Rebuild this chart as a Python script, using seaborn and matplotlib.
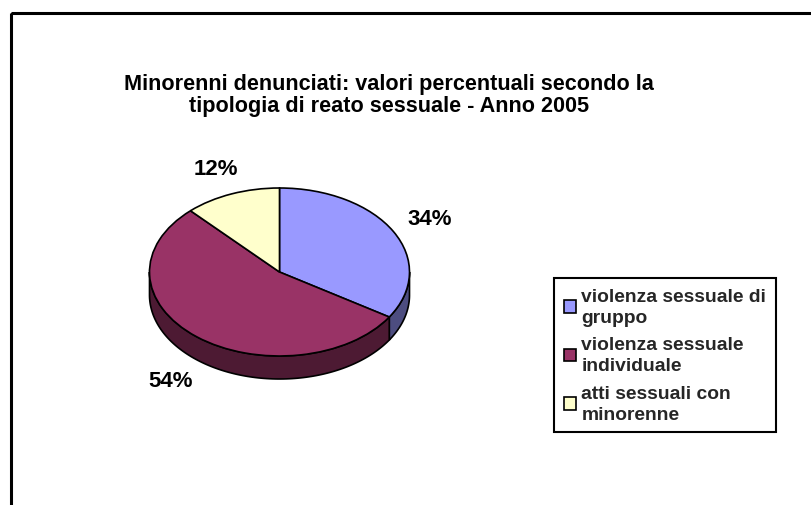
import numpy as np
import matplotlib
matplotlib.use("Agg")
import matplotlib.pyplot as plt
from matplotlib.patches import Polygon, Rectangle
import seaborn as sns

# ------------------------------------------------------
# data
# ------------------------------------------------------
categories = [
    "violenza sessuale di\ngruppo",
    "violenza sessuale\nindividuale",
    "atti sessuali con\nminorenne",
]
shares = [34, 54, 12]
top_colors = ["#9999FF", "#993366", "#FFFFCC"]
side_colors = ["#4D4D80", "#4D1A33", "#80806A"]
title = ("Minorenni denunciati: valori percentuali secondo la\n"
         "tipologia di reato sessuale - Anno 2005")

sns.set_theme(style="white")
plt.rcParams["font.family"] = ["Liberation Sans", "DejaVu Sans"]
plt.rcParams["font.weight"] = "bold"

W, H = 812, 506
fig = plt.figure(figsize=(W / 100, H / 100), dpi=100)


def fig_box(x0, y0, x1, y1):
    # pixel box (top-down) -> figure fraction rect
    return [x0 / W, 1 - y1 / H, (x1 - x0) / W, (y1 - y0) / H]


# ------------------------------------------------------
# "3D" pie: squashed pie + side walls
# ------------------------------------------------------
cx, cy, rx, ry, depth = 279.5, 273, 130, 84, 23
ax_px = (130, 160, 440, 400)
ax = fig.add_axes(fig_box(*ax_px))
wedges, _ = ax.pie(shares, colors=top_colors, startangle=90, counterclock=False,
                   wedgeprops=dict(edgecolor="black", linewidth=1.2, zorder=3))
ax.set_aspect("auto")
ax.set_xlim((ax_px[0] - cx) / rx, (ax_px[2] - cx) / rx)
ax.set_ylim((cy - ax_px[3]) / ry, (cy - ax_px[1]) / ry)
ax.axis("off")
d = depth / ry

for w, c in zip(wedges, side_colors):
    t1, t2 = w.theta1, w.theta2
    for k in (-360, 0, 360):
        lo = max(t1, 180 + k)
        hi = min(t2, 360 + k)
        if hi > lo:
            t = np.radians(np.linspace(lo, hi, 120))
            xs, ys = np.cos(t), np.sin(t)
            pts = np.column_stack([np.r_[xs, xs[::-1]], np.r_[ys, ys[::-1] - d]])
            ax.add_patch(Polygon(pts, closed=True, fc=c, ec="black",
                                 lw=1.2, zorder=2))

# percent labels
r_lab = 1.32
for w, s in zip(wedges, shares):
    mid = np.radians((w.theta1 + w.theta2) / 2)
    x, y = r_lab * np.cos(mid), r_lab * np.sin(mid)
    if y < 0:
        y -= d
    ax.text(x, y, f"{s}%", ha="center", va="center",
            fontsize=16, fontweight="bold", color="black")

# ------------------------------------------------------
# legend, title, frame
# ------------------------------------------------------
leg = fig.legend(wedges, categories, loc="upper left",
                 bbox_to_anchor=(554 / W, 1 - 279 / H), borderaxespad=0,
                 fontsize=13.9, frameon=True, fancybox=False,
                 edgecolor="black", framealpha=1,
                 handlelength=0.62, handleheight=0.62, handletextpad=0.3,
                 labelspacing=0.55, borderpad=0.5)
leg.get_frame().set_linewidth(1.5)
for t in leg.get_texts():
    t.set_linespacing(1.3)

fig.text(389 / W, 1 - 95.5 / H, title, ha="center", va="center",
         fontsize=15.6, fontweight="bold", linespacing=1.08, color="black")

fig.add_artist(Rectangle((11 / W, 1 - 13.5 / H), 2, -2,
                         transform=fig.transFigure, fill=False,
                         ec="black", lw=2.2, clip_on=False))

fig.savefig("out.png", dpi=100)
